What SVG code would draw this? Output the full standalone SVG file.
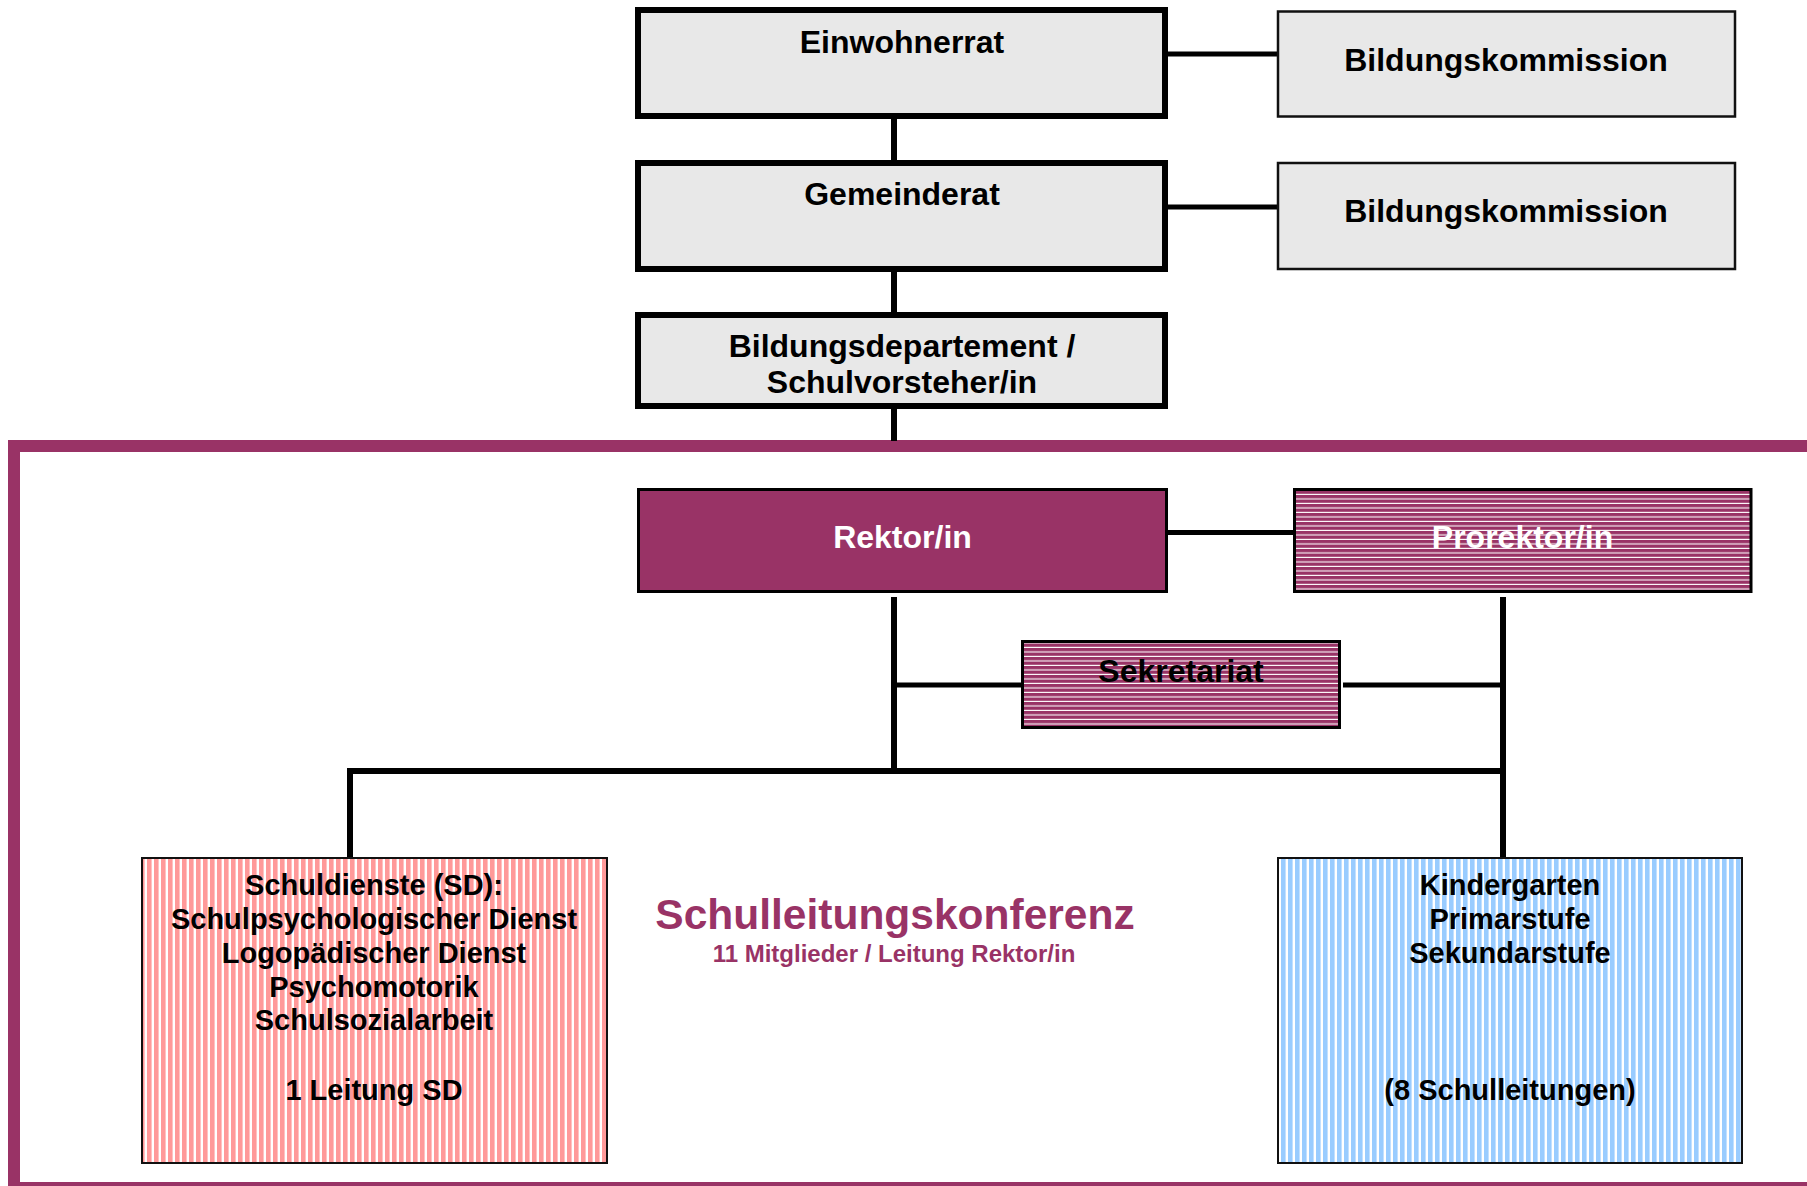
<svg xmlns="http://www.w3.org/2000/svg" width="1807" height="1186" viewBox="0 0 1807 1186">
<defs>
<pattern id="hstripe" patternUnits="userSpaceOnUse" width="20" height="4.5"><rect width="20" height="4.5" fill="#993366"/><rect y="3.4" width="20" height="1.1" fill="#ffffff"/></pattern>
<pattern id="pink" patternUnits="userSpaceOnUse" width="7" height="20"><rect width="7" height="20" fill="#FF9999"/><rect x="4.6" width="2.4" height="20" fill="#ffffff"/></pattern>
<pattern id="blue" patternUnits="userSpaceOnUse" width="7" height="20"><rect width="7" height="20" fill="#99CCFF"/><rect x="4.6" width="2.4" height="20" fill="#ffffff"/></pattern>
</defs>
<style>
text{font-family:"Liberation Sans",Arial,Helvetica,sans-serif;font-weight:bold;text-anchor:middle}
.t{font-size:32px;fill:#000}
.s{font-size:29px;fill:#000}
.w{font-size:32px;fill:#fff}
.gov{fill:#E8E8E8;stroke:#000;stroke-width:6}
.kom{fill:#E8E8E8;stroke:#111;stroke-width:2.5}
.mag{stroke:#000;stroke-width:3}
.low{stroke:#111;stroke-width:2}
.c{stroke:#000;stroke-width:6;fill:none}
.c5{stroke:#000;stroke-width:5;fill:none}
</style>
<rect width="1807" height="1186" fill="#ffffff"/>
<rect id="frame" x="14" y="446" width="1830" height="742" fill="none" stroke="#993366" stroke-width="12"/>
<g id="connectors">
<line class="c" x1="894" y1="119" x2="894" y2="160"/>
<line class="c" x1="894" y1="272" x2="894" y2="312"/>
<line class="c" x1="894" y1="409" x2="894" y2="441"/>
<line class="c5" x1="1168" y1="54" x2="1278" y2="54"/>
<line class="c5" x1="1168" y1="207" x2="1278" y2="207"/>
<line class="c5" x1="1168" y1="532.5" x2="1293" y2="532.5"/>
<line class="c" x1="894" y1="597" x2="894" y2="771"/>
<line class="c" x1="1503" y1="597" x2="1503" y2="858"/>
<line class="c5" x1="894" y1="685" x2="1021" y2="685"/>
<line class="c5" x1="1343" y1="685" x2="1503" y2="685"/>
<line class="c" x1="347" y1="771" x2="1506" y2="771"/>
<line class="c" x1="350" y1="768" x2="350" y2="861"/>
</g>
<g id="einwohnerrat">
<rect class="gov" x="638" y="10" width="527" height="106"/>
<text class="t" x="902" y="53">Einwohnerrat</text>
</g>
<g id="bildungskommission1">
<rect class="kom" x="1278" y="11.5" width="457" height="105"/>
<text class="t" x="1506" y="71">Bildungskommission</text>
</g>
<g id="gemeinderat">
<rect class="gov" x="638" y="163" width="527" height="106"/>
<text class="t" x="902" y="205">Gemeinderat</text>
</g>
<g id="bildungskommission2">
<rect class="kom" x="1278" y="163" width="457" height="106"/>
<text class="t" x="1506" y="222">Bildungskommission</text>
</g>
<g id="bildungsdepartement">
<rect class="gov" x="638" y="315" width="527" height="91"/>
<text class="t" x="902" y="357">Bildungsdepartement /</text>
<text class="t" x="902" y="393">Schulvorsteher/in</text>
</g>
<g id="rektor">
<rect class="mag" x="638.5" y="489.5" width="528" height="102" fill="#993366"/>
<text class="w" x="902.5" y="548">Rektor/in</text>
</g>
<g id="prorektor">
<rect class="mag" x="1294.5" y="489.5" width="456.5" height="102" fill="url(#hstripe)"/>
<text class="w" x="1522.5" y="548">Prorektor/in</text>
</g>
<g id="sekretariat">
<rect class="mag" x="1022.5" y="641.5" width="317" height="86" fill="url(#hstripe)"/>
<text class="t" x="1181" y="682">Sekretariat</text>
</g>
<g id="schuldienste">
<rect class="low" x="142" y="858" width="465" height="305" fill="url(#pink)"/>
<text class="s" x="374" y="895">Schuldienste (SD):</text>
<text class="s" x="374" y="929">Schulpsychologischer Dienst</text>
<text class="s" x="374" y="963">Logopädischer Dienst</text>
<text class="s" x="374" y="997">Psychomotorik</text>
<text class="s" x="374" y="1030">Schulsozialarbeit</text>
<text class="s" x="374" y="1100">1 Leitung SD</text>
</g>
<g id="schulen">
<rect class="low" x="1278" y="858" width="464" height="305" fill="url(#blue)"/>
<text class="s" x="1510" y="895">Kindergarten</text>
<text class="s" x="1510" y="929">Primarstufe</text>
<text class="s" x="1510" y="963">Sekundarstufe</text>
<text class="s" x="1510" y="1100">(8 Schulleitungen)</text>
</g>
<g id="schulleitungskonferenz">
<text x="895" y="929" style="font-size:42.5px;fill:#993366">Schulleitungskonferenz</text>
<text x="894" y="962" style="font-size:24px;fill:#993366">11 Mitglieder / Leitung Rektor/in</text>
</g>
</svg>
